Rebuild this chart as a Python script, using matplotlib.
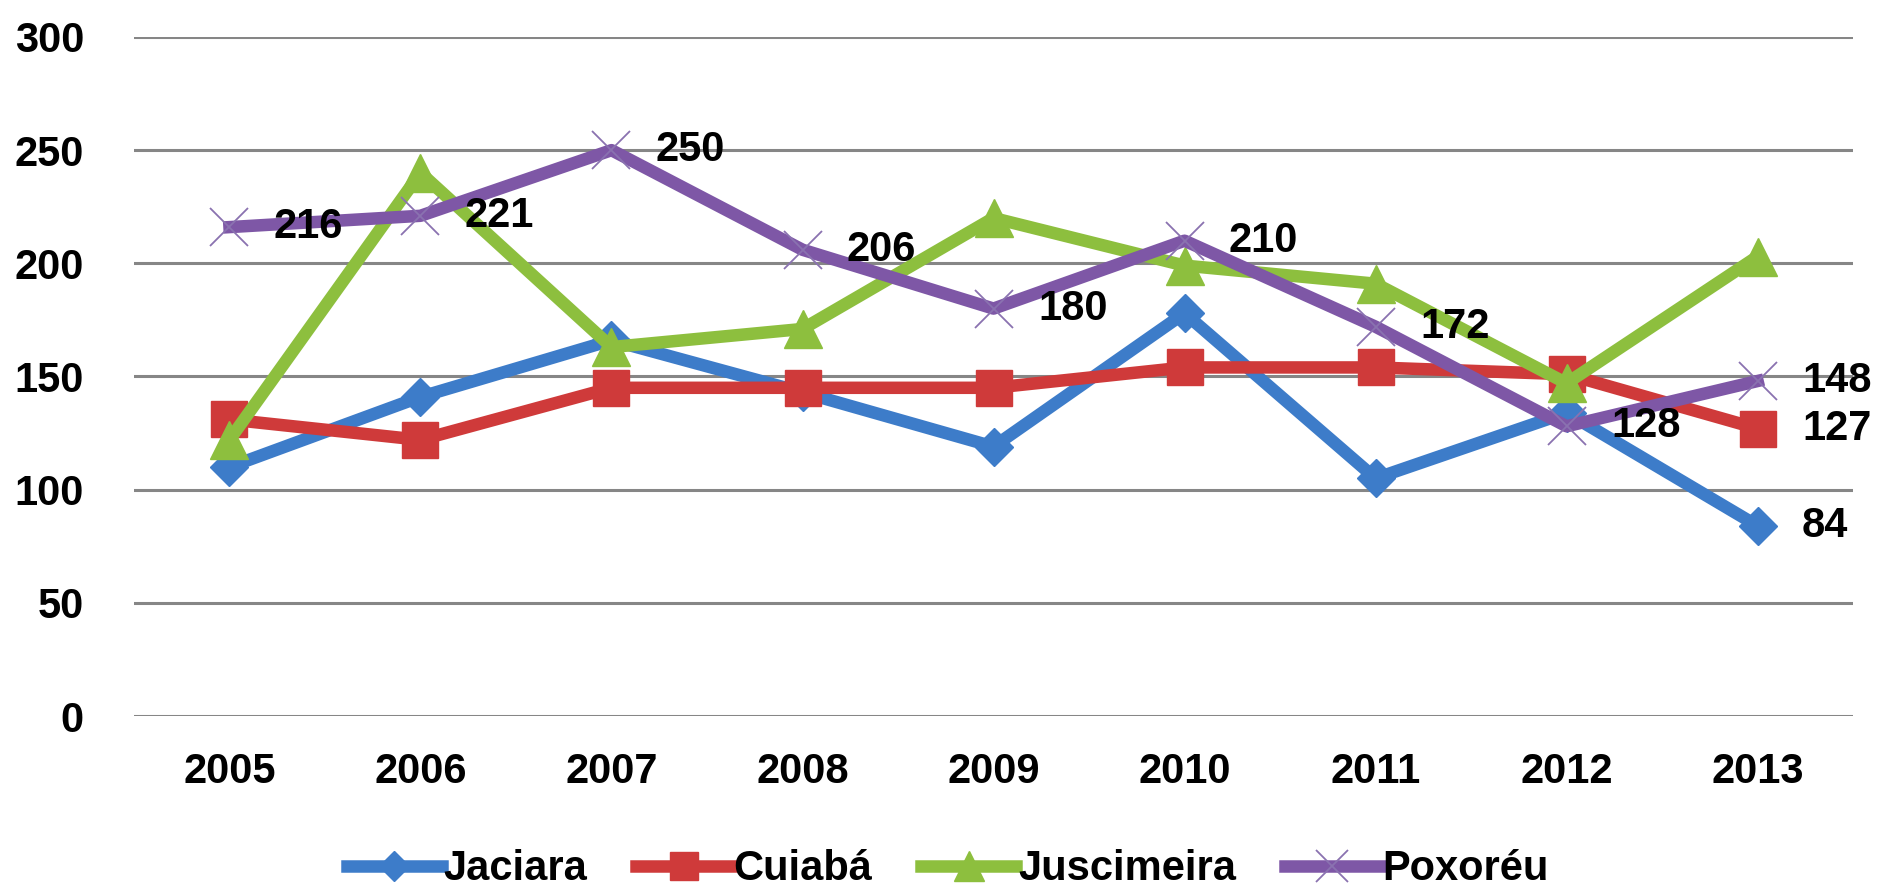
import numpy as np
import matplotlib
matplotlib.use('Agg')
import matplotlib.pyplot as plt

years = ['2005', '2006', '2007', '2008', '2009', '2010', '2011', '2012', '2013']
jaciara = [110, 141, 166, 143, 119, 178, 105, 134, 84]
cuiaba = [131, 122, 145, 145, 145, 154, 154, 151, 127]
juscimeira = [122, 240, 163, 171, 220, 199, 191, 147, 203]
poxoreu = [216, 221, 250, 206, 180, 210, 172, 128, 148]
y_ticks = [0, 50, 100, 150, 200, 250, 300]

plt.rcParams['font.family'] = ['Liberation Sans', 'DejaVu Sans']
plt.rcParams['font.weight'] = 'bold'

fig = plt.figure(figsize=(18.79, 8.89), dpi=100)
ax = fig.add_axes([0.0713, 0.1946, 0.9149, 0.7638])

x = np.arange(len(years))
blue = '#3d7cc9'
red = '#cf3a3a'
green = '#8dbf3e'
purple = '#7e57a6'

ax.plot(x, jaciara, color=blue, lw=9, marker='D', ms=19, mec=blue, label='Jaciara', zorder=3)
ax.plot(x, cuiaba, color=red, lw=9, marker='s', ms=26, mec=red, label='Cuiabá', zorder=4)
ax.plot(x, juscimeira, color=green, lw=9, marker='^', ms=27, mec=green, label='Juscimeira', zorder=5)
ax.plot(x, poxoreu, color=purple, lw=9, marker='x', ms=28, mew=1.3, mec='#8a72b0',
        label='Poxoréu', zorder=6)

# data labels: all purple points plus last values of red and blue
for xi, v in zip(x, poxoreu):
    ax.annotate(str(v), (xi, v), xytext=(32, 0), textcoords='offset points',
                ha='left', va='center', fontsize=30, color='black', zorder=10)
ax.annotate(str(cuiaba[-1]), (x[-1], cuiaba[-1]), xytext=(32, 0), textcoords='offset points',
            ha='left', va='center', fontsize=30, color='black', zorder=10)
ax.annotate(str(jaciara[-1]), (x[-1], jaciara[-1]), xytext=(32, 0), textcoords='offset points',
            ha='left', va='center', fontsize=30, color='black', zorder=10)

ax.set_xlim(-0.5, len(years) - 0.5)
ax.set_ylim(0, 300)
ax.set_yticks(y_ticks)
ax.set_xticks(x)
ax.set_xticklabels(years)
ax.tick_params(axis='both', length=0, labelsize=30)
ax.tick_params(axis='y', pad=36)
ax.tick_params(axis='x', pad=26)
ax.grid(True, axis='y', color='#868686', linewidth=2.2)
ax.set_axisbelow(True)
for s in ax.spines.values():
    s.set_visible(False)

fig.legend(loc='center', bbox_to_anchor=(0.5043, 0.022), ncol=4, frameon=False,
           fontsize=30, handlelength=2.28, handletextpad=0.05, columnspacing=1.17,
           markerscale=0.8, borderpad=0)

fig.savefig('out.png', dpi=100, facecolor='white')
